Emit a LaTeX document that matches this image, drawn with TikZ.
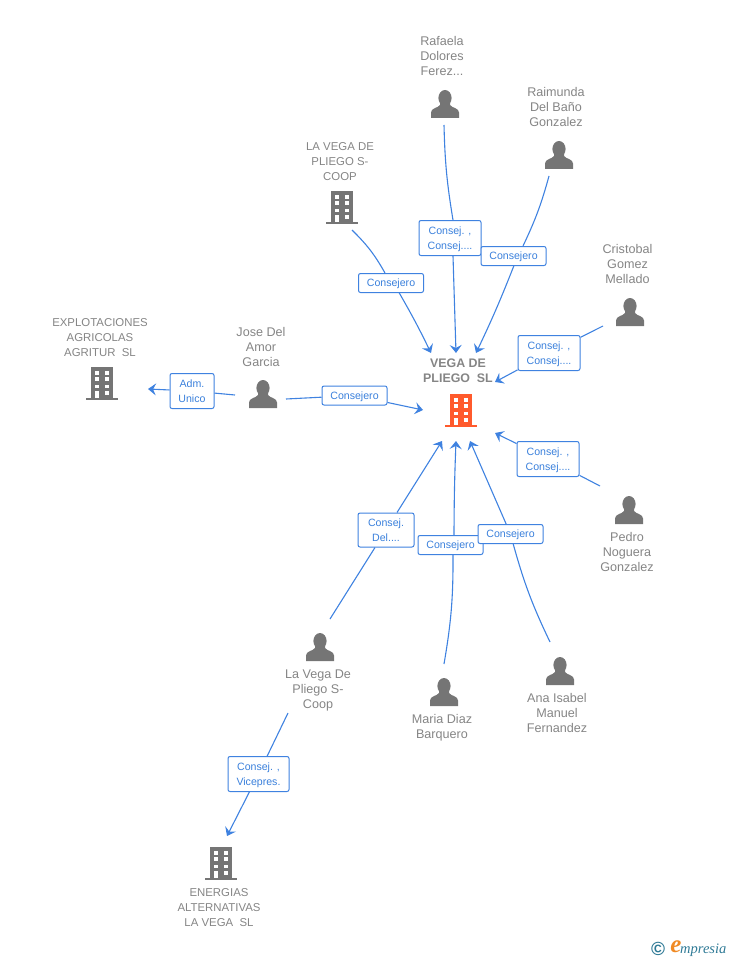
\documentclass[tikz,border=0pt]{standalone}
\usepackage{fontspec}
\setmainfont{Liberation Sans}
\newfontfamily\logofont{Liberation Serif}
\usetikzlibrary{arrows.meta}
\definecolor{linkblue}{HTML}{3F82E0}
\definecolor{textblue}{HTML}{3A80DC}
\definecolor{icongray}{HTML}{757575}
\definecolor{namegray}{HTML}{858585}
\definecolor{mainorange}{HTML}{FF5A2C}
\definecolor{logoteal}{HTML}{2F7A96}
\definecolor{logoorange}{HTML}{F08A24}
\tikzset{
  person/.style={text=namegray,align=center,font=\fontsize{12.6}{15}\selectfont},
  company/.style={text=namegray,align=center,font=\fontsize{11.4}{15}\selectfont},
  role/.style={draw=linkblue,line width=1pt,fill=white,rounded corners=2pt,text=textblue,align=center,
    inner sep=0pt,text depth=0.6pt,font=\fontsize{10.6}{15}\selectfont},
  roleone/.style={role,minimum width=65,minimum height=19},
  roletwo/.style={role,minimum width=62,minimum height=35},
  link/.style={draw=linkblue,line width=1.1pt},
  linkto/.style={link,-{Stealth[length=8pt,width=12pt,inset=3pt]}},
  pics/personicon/.style={code={
    \fill[icongray] (0,-6) ellipse (6.6 and 8);
    \fill[icongray] (-14,14) -- (-14,8.5) .. controls (-14,4) and (-7,4) .. (-5,1)
      -- (-5,-2) -- (5,-2) -- (5,1) .. controls (7,4) and (14,4) .. (14,8.5) -- (14,14) -- cycle;
  }},
  pics/buildingicon/.style={code={
    \fill[#1] (-11.3,-16.5) rectangle (11.3,15);
    \fill[#1] (-16,15) rectangle (16,16.7);
    \foreach \wy/\wh in {-12.5/4.6,-6/3.8,1.5/3.4,7.5/4}{
      \fill[white] (-7.3,\wy) rectangle ++(4.6,\wh);
      \fill[white] (2.5,\wy) rectangle ++(4.8,\wh);
    }
    \fill[white] (-7.3,7.5) rectangle (-2.7,15);
  }}
}
\begin{document}
\begin{tikzpicture}[x=1pt,y=-1pt]
  \useasboundingbox (0,0) rectangle (728,960);

  % people
  \pic at (445,104) {personicon};
  \pic at (559,155) {personicon};
  \pic at (630,312) {personicon};
  \pic at (263,394) {personicon};
  \pic at (629,510) {personicon};
  \pic at (320,647) {personicon};
  \pic at (444,692) {personicon};
  \pic at (560,671) {personicon};

  % companies
  \pic at (342,207) {buildingicon=icongray};
  \pic at (102,383) {buildingicon=icongray};
  \pic at (221,863) {buildingicon=icongray};
  \pic at (461,410) {buildingicon=mainorange};

  % names
  \node[person] (rafaela) at (442,56) {Rafaela\\Dolores\\Ferez...};
  \node[person] (raimunda) at (556,107) {Raimunda\\Del Baño\\Gonzalez};
  \node[person] (cristobal) at (627.5,264) {Cristobal\\Gomez\\Mellado};
  \node[person] (jose) at (261,347) {Jose Del\\Amor\\Garcia};
  \node[person] (pedro) at (627,552) {Pedro\\Noguera\\Gonzalez};
  \node[person] (lavegap) at (318,690.5) {La Vega De\\Pliego S-\\Coop};
  \node[person] (maria) at (442,728) {Maria Diaz\\Barquero};
  \node[person] (ana) at (557,713) {Ana Isabel\\Manuel\\Fernandez};
  \node[company] (lavega) at (340,161.5) {LA VEGA DE\\PLIEGO S-\\COOP};
  \node[company] (explot) at (100,337.5) {EXPLOTACIONES\\AGRICOLAS\\AGRITUR\ \ SL};
  \node[company] (energias) at (219,907.5) {ENERGIAS\\ALTERNATIVAS\\LA VEGA\ \ SL};
  \node[company,font=\fontsize{12.4}{15}\selectfont\bfseries] (vega) at (458,371) {VEGA DE\\PLIEGO\ \ SL};

  % roles
  \node[roletwo] (r1) at (450,238) {Consej. ,\\Consej....};
  \node[roleone] (r2) at (513.5,256) {Consejero};
  \node[roleone] (r3) at (391,283) {Consejero};
  \node[roletwo] (r4) at (549,353) {Consej. ,\\Consej....};
  \node[roletwo] (r5) at (548,459) {Consej. ,\\Consej....};
  \node[roleone] (r6) at (354.5,395.5) {Consejero};
  \node[role,minimum width=44,minimum height=35] (r7) at (192,391) {Adm.\\Unico};
  \node[role,minimum width=56,minimum height=34] (r8) at (386,530) {Consej.\\Del....};
  \node[roleone] (r9) at (450.5,545) {Consejero};
  \node[roleone] (r10) at (510.5,534) {Consejero};
  \node[roletwo,minimum width=61] (r11) at (258.5,774) {Consej. ,\\Vicepres.};

  % free ends
  \coordinate (s1) at (444,125);
  \coordinate (e1) at (456,353);
  \coordinate (s2) at (549,176);
  \coordinate (e2) at (476,353);
  \coordinate (s3) at (352,230);
  \coordinate (e3) at (431,353);
  \coordinate (s4) at (603,326);
  \coordinate (e4) at (495,382);
  \coordinate (s5) at (600,486);
  \coordinate (e5) at (495,433);
  \coordinate (s6) at (286,399);
  \coordinate (e6) at (423,410);
  \coordinate (s7) at (235,395);
  \coordinate (e7) at (148,389);
  \coordinate (s8) at (330,619);
  \coordinate (e8) at (442,441);
  \coordinate (s9) at (444,664);
  \coordinate (e9) at (456,441);
  \coordinate (s10) at (550,642);
  \coordinate (e10) at (470,441);
  \coordinate (s11) at (288,713);
  \coordinate (e11) at (227,836);

  \draw[link] (s1) to[bend right=4] (r1.north -| 453,0);
  \draw[linkto] (r1.south -| 453,0) -- (e1);
  \draw[link] (s2) to[bend left=5] (523,246);
  \draw[linkto] (514,265.5) to[bend left=2] (e2);
  \draw[link] (s3) to[bend left=8] (385,273);
  \draw[linkto] (399,292.5) to[bend left=2] (e3);
  \draw[link] (s4) -- (r4);
  \draw[linkto] (r4) -- (e4);
  \draw[link] (s5) -- (r5);
  \draw[linkto] (r5) -- (e5);
  \draw[link] (s6) -- (r6);
  \draw[linkto] (r6) -- (e6);
  \draw[link] (s7) -- (r7);
  \draw[linkto] (r7) -- (e7);
  \draw[link] (s8) -- (r8);
  \draw[linkto] (r8) -- (e8);
  \draw[link] (s9) to[bend right=5] (453,555);
  \draw[linkto] (454,535) to[bend left=1] (e9);
  \draw[link] (s10) to[bend left=5] (r10);
  \draw[linkto] (r10) -- (e10);
  \draw[link] (s11) -- (r11);
  \draw[linkto] (r11) -- (e11);

  % logo
  \node[text=logoteal,font=\fontsize{19}{19}\selectfont\bfseries] (copyr) at (658,949) {©};
  \node[text=logoorange,font=\logofont\itshape\bfseries\fontsize{25}{25}\selectfont] (logoe) at (676,947) {e};
  \node[text=logoteal,font=\logofont\itshape\fontsize{14.5}{14.5}\selectfont,anchor=west,inner sep=0pt] (logotext) at (680,950) {mpresia};
\end{tikzpicture}
\end{document}
